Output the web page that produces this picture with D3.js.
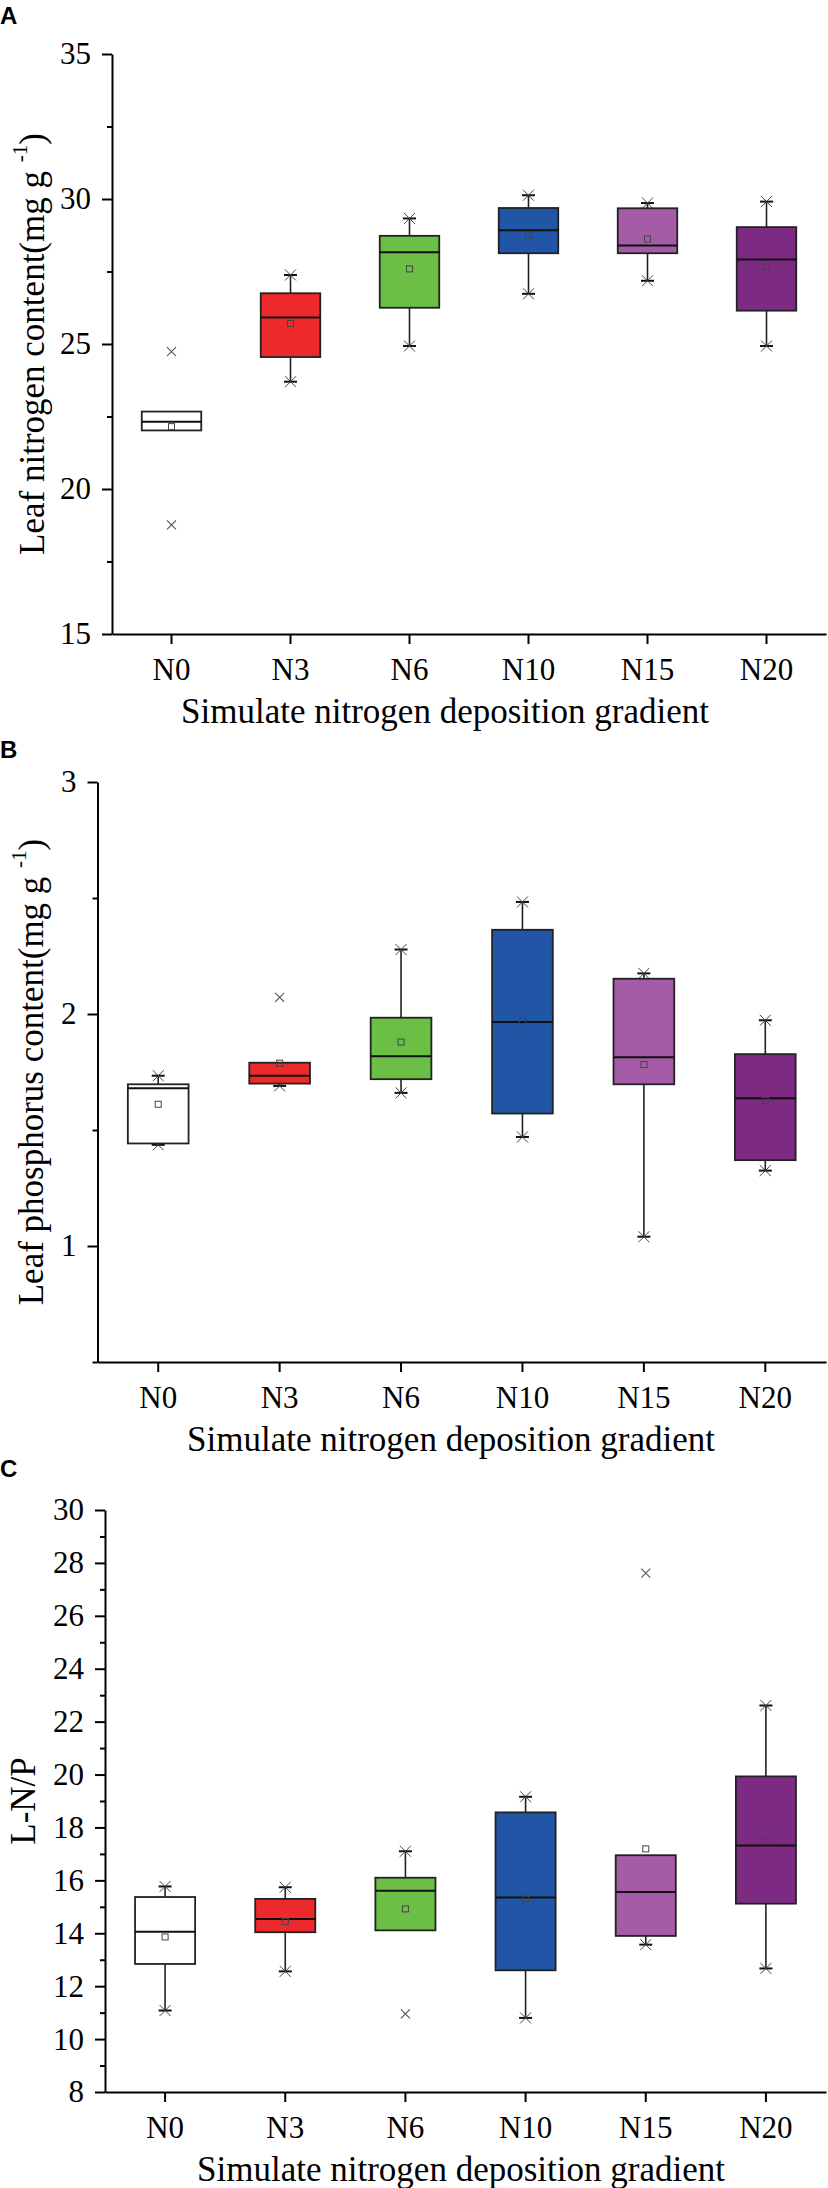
<!DOCTYPE html>
<html lang="en">
<head>
    <meta charset="UTF-8">
    <title>Leaf N, P and N/P box plots</title>
    <script src="https://cdnjs.cloudflare.com/ajax/libs/d3/7.8.5/d3.min.js"></script>
    <style>
        body { margin: 0; background: #fff; }
        svg { display: block; }
        .axis path, .axis line { stroke: #000; stroke-width: 2px; }
    </style>
</head>
<body>
    <div id="chart"></div>

    <script>
        // treatments
        const categories = ['N0', 'N3', 'N6', 'N10', 'N15', 'N20'];
        const boxColors = ['#ffffff', '#ed2a2b', '#6cbf45', '#2155a5', '#a55ba5', '#7d2b82'];

        // A: leaf nitrogen content (null = no whisker beyond the box)
        const nLow  = [null, 23.70, 24.93, 26.73, 27.18, 24.93];
        const nQ1   = [22.02, 24.55, 26.25, 28.13, 28.13, 26.15];
        const nMed  = [22.32, 25.91, 28.16, 28.92, 28.40, 27.91];
        const nQ3   = [22.67, 26.75, 28.73, 29.69, 29.68, 29.03];
        const nHigh = [null, 27.38, 29.33, 30.13, 29.86, 29.91];
        const nMean = [22.15, 25.71, 27.59, 28.75, 28.62, 27.65];
        const nOut  = [[24.74, 18.76], [], [], [], [], []];
        const nTicks = [15, 20, 25, 30, 35];
        const nMinor = [17.5, 22.5, 27.5, 32.5];

        // B: leaf phosphorus content
        const pLow  = [1.436, 1.690, 1.660, 1.470, 1.040, 1.325];
        const pQ1   = [1.442, 1.700, 1.719, 1.571, 1.697, 1.370];
        const pMed  = [1.680, 1.734, 1.818, 1.966, 1.814, 1.637];
        const pQ3   = [1.697, 1.790, 1.984, 2.363, 2.152, 1.827];
        const pHigh = [1.734, null, 2.278, 2.483, 2.175, 1.973];
        const pMean = [1.611, 1.788, 1.879, 1.971, 1.782, 1.627];
        const pOut  = [[], [2.072], [], [], [], []];
        const pTicks = [1, 2, 3];
        const pMinor = [0.5, 1.5, 2.5];

        // C: N/P ratio
        const rLow  = [11.08, 12.56, null, 10.80, 13.57, 12.67];
        const rQ1   = [12.84, 14.04, 14.11, 12.60, 13.90, 15.12];
        const rMed  = [14.06, 14.54, 15.61, 15.35, 15.56, 17.32];
        const rQ3   = [15.37, 15.30, 16.10, 18.57, 16.95, 19.93];
        const rHigh = [15.77, 15.74, 17.10, 19.16, null, 22.61];
        const rMean = [13.86, 14.45, 14.92, 15.30, 17.19, 17.50];
        const rOut  = [[], [], [10.95], [], [27.61], []];
        const rTicks = [8, 10, 12, 14, 16, 18, 20, 22, 24, 26, 28, 30];
        const rMinor = [9, 11, 13, 15, 17, 19, 21, 23, 25, 27, 29];

        const xTitle = 'Simulate nitrogen deposition gradient';
        const serif = "'Liberation Serif', 'Times New Roman', serif";

        const svg = d3.select('#chart')
            .append('svg')
            .attr('width', 828)
            .attr('height', 2188);

        const xCross = (cx, cy, s) =>
            `M${cx - s},${cy - s}L${cx + s},${cy + s}M${cx - s},${cy + s}L${cx + s},${cy - s}`;

        // d3 puts sans-serif on the axis group, swap it for the serif face
        const serifText = a => {
            a.attr('font-family', null).attr('font-size', null);
            a.selectAll('text')
                .style('font-family', serif)
                .style('font-size', '31px')
                .attr('fill', '#000');
        };

        function drawPanel(p) {
            const g = svg.append('g');

            const x = d3.scaleBand()
                .domain(categories)
                .range([p.left, 826]);

            const y = d3.scaleLinear()
                .domain(p.domain)
                .range([p.bottom, p.top]);

            const bw = x.bandwidth() * 0.5;

            // minor y ticks
            g.append('g')
                .attr('class', 'axis')
                .attr('transform', `translate(${p.left},0)`)
                .call(d3.axisLeft(y).tickValues(p.minor).tickSize(5).tickSizeOuter(0).tickFormat(''))
                .call(a => a.select('.domain').remove());

            // major y ticks
            g.append('g')
                .attr('class', 'axis')
                .attr('transform', `translate(${p.left},0)`)
                .call(d3.axisLeft(y).tickValues(p.ticks).tickSize(10).tickSizeOuter(0)
                    .tickPadding(11).tickFormat(d => String(d)))
                .call(serifText);

            // x axis
            g.append('g')
                .attr('class', 'axis')
                .attr('transform', `translate(0,${p.bottom})`)
                .call(d3.axisBottom(x).tickSize(10).tickSizeOuter(0).tickPadding(14))
                .call(serifText);

            // boxes
            const box = g.append('g')
                .selectAll('g')
                .data(categories)
                .join('g')
                .attr('transform', d => `translate(${x(d) + x.bandwidth() / 2},0)`);

            box.each(function (d, i) {
                const b = d3.select(this);
                const whiskers = [[p.high[i], p.q3[i]], [p.low[i], p.q1[i]]];
                whiskers.forEach(([end, edge]) => {
                    if (end === null) return;
                    b.append('line')
                        .attr('x1', 0).attr('x2', 0)
                        .attr('y1', y(edge)).attr('y2', y(end))
                        .attr('stroke', '#222').attr('stroke-width', 1.6);
                    b.append('line')
                        .attr('x1', -6.5).attr('x2', 6.5)
                        .attr('y1', y(end)).attr('y2', y(end))
                        .attr('stroke', '#111').attr('stroke-width', 2);
                    b.append('path')
                        .attr('d', xCross(0, y(end), 5.5))
                        .attr('stroke', '#444').attr('stroke-width', 1)
                        .attr('fill', 'none');
                });

                b.append('rect')
                    .attr('x', -bw / 2)
                    .attr('width', bw)
                    .attr('y', y(p.q3[i]))
                    .attr('height', y(p.q1[i]) - y(p.q3[i]))
                    .attr('fill', boxColors[i])
                    .attr('stroke', '#222')
                    .attr('stroke-width', 1.8);

                b.append('line')
                    .attr('x1', -bw / 2).attr('x2', bw / 2)
                    .attr('y1', y(p.med[i])).attr('y2', y(p.med[i]))
                    .attr('stroke', '#111').attr('stroke-width', 2);

                b.append('rect')
                    .attr('x', -3).attr('y', y(p.mean[i]) - 3)
                    .attr('width', 6).attr('height', 6)
                    .attr('fill', 'none')
                    .attr('stroke', '#444').attr('stroke-width', 1);

                p.out[i].forEach(v => {
                    b.append('path')
                        .attr('d', xCross(0, y(v), 4.5))
                        .attr('stroke', '#555').attr('stroke-width', 1.1)
                        .attr('fill', 'none');
                });
            });

            // x title
            g.append('text')
                .attr('x', p.xTitleX)
                .attr('y', p.bottom + 89)
                .attr('text-anchor', 'middle')
                .style('font-family', serif)
                .attr('font-size', 35)
                .text(xTitle);

            // y title
            const yt = g.append('text')
                .attr('transform', `translate(${p.yTitleX},${(p.top + p.bottom) / 2}) rotate(-90)`)
                .attr('text-anchor', 'middle')
                .style('font-family', serif)
                .attr('font-size', 35);
            yt.append('tspan').text(p.yTitle);
            if (p.unit) {
                yt.append('tspan').text('(mg g ');
                yt.append('tspan').attr('font-size', 21).attr('dy', -17).text('-1');
                yt.append('tspan').attr('dy', 17).text(')');
            }

            // panel letter
            svg.append('text')
                .attr('x', 0)
                .attr('y', p.labelY)
                .style('font-family', "'Liberation Sans', Arial, sans-serif")
                .attr('font-weight', 'bold')
                .attr('font-size', 24)
                .text(p.label);
        }

        drawPanel({
            label: 'A', labelY: 24,
            left: 112, top: 54, bottom: 634, domain: [15, 35],
            ticks: nTicks, minor: nMinor,
            low: nLow, q1: nQ1, med: nMed, q3: nQ3, high: nHigh, mean: nMean, out: nOut,
            yTitle: 'Leaf nitrogen content', unit: true, yTitleX: 44, xTitleX: 445
        });

        drawPanel({
            label: 'B', labelY: 758,
            left: 97.5, top: 782, bottom: 1362, domain: [0.5, 3],
            ticks: pTicks, minor: pMinor,
            low: pLow, q1: pQ1, med: pMed, q3: pQ3, high: pHigh, mean: pMean, out: pOut,
            yTitle: 'Leaf phosphorus content', unit: true, yTitleX: 43, xTitleX: 451
        });

        drawPanel({
            label: 'C', labelY: 1477,
            left: 105, top: 1510, bottom: 2092, domain: [8, 30],
            ticks: rTicks, minor: rMinor,
            low: rLow, q1: rQ1, med: rMed, q3: rQ3, high: rHigh, mean: rMean, out: rOut,
            yTitle: 'L-N/P', unit: false, yTitleX: 35, xTitleX: 461
        });
    </script>
</body>
</html>
